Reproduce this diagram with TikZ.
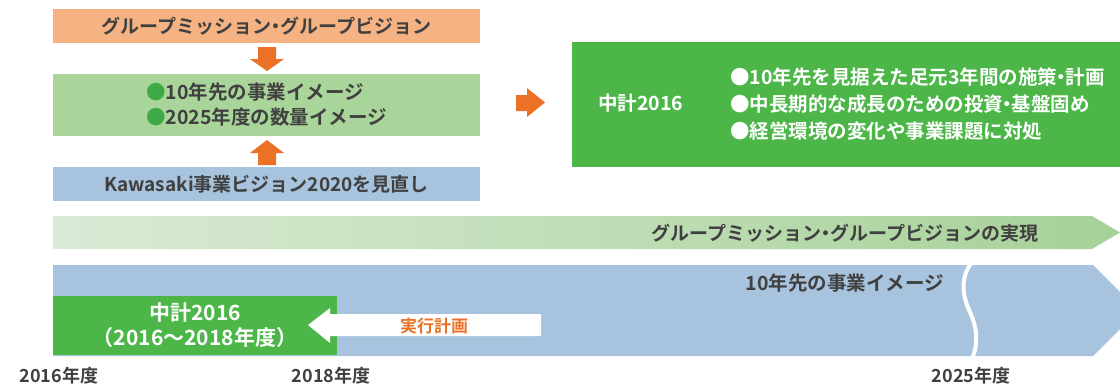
\documentclass[tikz,border=0pt]{standalone}
\usepackage{fontspec}
\setmainfont{Noto Sans CJK JP}[BoldFont={Noto Sans CJK JP Bold}]
\definecolor{orbox}{RGB}{245,178,131}
\definecolor{orarrow}{RGB}{234,113,37}
\definecolor{lgbox}{RGB}{169,213,155}
\definecolor{bluebox}{RGB}{168,195,221}
\definecolor{dgbox}{RGB}{76,183,72}
\definecolor{bulletg}{RGB}{61,170,70}
\definecolor{txt}{RGB}{64,64,64}
\definecolor{gradL}{RGB}{218,234,213}
\definecolor{gradR}{RGB}{166,209,152}
\newcommand{\nkg}{\hbox to 0.45em{\hss・\hss}}
\begin{document}
\begin{tikzpicture}[x=1pt,y=-1pt,
  every node/.style={inner sep=0pt, outer sep=0pt, text=txt,
    font=\fontsize{19}{25}\selectfont\bfseries},
  topbox/.style={fill=#1, minimum width=427pt},
  blockarrow/.style={fill=orarrow},
  yearlabel/.style={font=\fontsize{18}{22}\selectfont\bfseries}]
\useasboundingbox (0,0) rectangle (1120,384);
\clip (0,0) rectangle (1120,384);
% top left boxes
\node[topbox=orbox, minimum height=34pt] (mission) at (266.5,26) {グループミッション\nkg グループビジョン};
\node[topbox=lgbox, minimum height=62pt, align=left, font=\fontsize{19.5}{25}\selectfont\bfseries] (image) at (266.5,105) {{\color{bulletg}●}10年先の事業イメージ\\{\color{bulletg}●}2025年度の数量イメージ};
\node[topbox=bluebox, minimum height=34pt] (vision) at (266.5,184) {Kawasaki事業ビジョン2020を見直し};
% arrows between boxes
\fill[blockarrow] (258,47) -- (276,47) -- (276,59) -- (284,59) -- (267,71) -- (250,59) -- (258,59) -- cycle;
\fill[blockarrow] (267,140) -- (284,153) -- (276,153) -- (276,165) -- (258,165) -- (258,153) -- (250,153) -- cycle;
\fill[blockarrow] (516,95) -- (527,95) -- (527,88) -- (545,102.5) -- (527,117) -- (527,111) -- (516,111) -- cycle;
% right green box
\fill[dgbox] (572,42) rectangle (1120,167);
\node[text=white, anchor=west, font=\fontsize{19.5}{25}\selectfont\bfseries] (chukei) at (598,103) {中計2016};
\node[text=white, anchor=west, align=left, font=\fontsize{19.5}{27}\selectfont\bfseries] (plans) at (730,104)
  {●10年先を見据えた足元3年間の施策\nkg 計画\\●中長期的な成長のための投資\nkg 基盤固め\\●経営環境の変化や事業課題に対処};
% gradient arrow
\shade[left color=gradL, right color=gradR] (53,216) -- (1092,216) -- (1120,232.5) -- (1092,249) -- (53,249) -- cycle;
\node[anchor=east] (realize) at (1038,233) {グループミッション\nkg グループビジョンの実現};
% blue band
\fill[bluebox] (53,265) -- (1093,265) -- (1138.5,310.5) -- (1093,356) -- (53,356) -- cycle;
\draw[white, line width=4pt] (972,262) .. controls (960,278) and (962,295) .. (970,312) .. controls (978,330) and (978,345) .. (972,359);
\node[anchor=east, font=\fontsize{19.5}{25}\selectfont\bfseries] (tenyear) at (944,283) {10年先の事業イメージ};
% lower green box
\node[fill=dgbox, minimum width=284pt, minimum height=59pt, text=white, align=center,
  font=\fontsize{21}{25}\selectfont\bfseries] (mtp) at (195,325.5) {中計2016\\（2016〜2018年度）};
% white arrow
\fill[white] (308,325) -- (330,308) -- (330,314) -- (541,314) -- (541,336) -- (330,336) -- (330,343) -- cycle;
\node[text=orarrow, font=\fontsize{17}{20}\selectfont\bfseries] (exec) at (434,326) {実行計画};
% year labels
\node[yearlabel] (y2016) at (59,376) {2016年度};
\node[yearlabel] (y2018) at (331,376) {2018年度};
\node[yearlabel] (y2025) at (971,376) {2025年度};
\end{tikzpicture}
\end{document}
